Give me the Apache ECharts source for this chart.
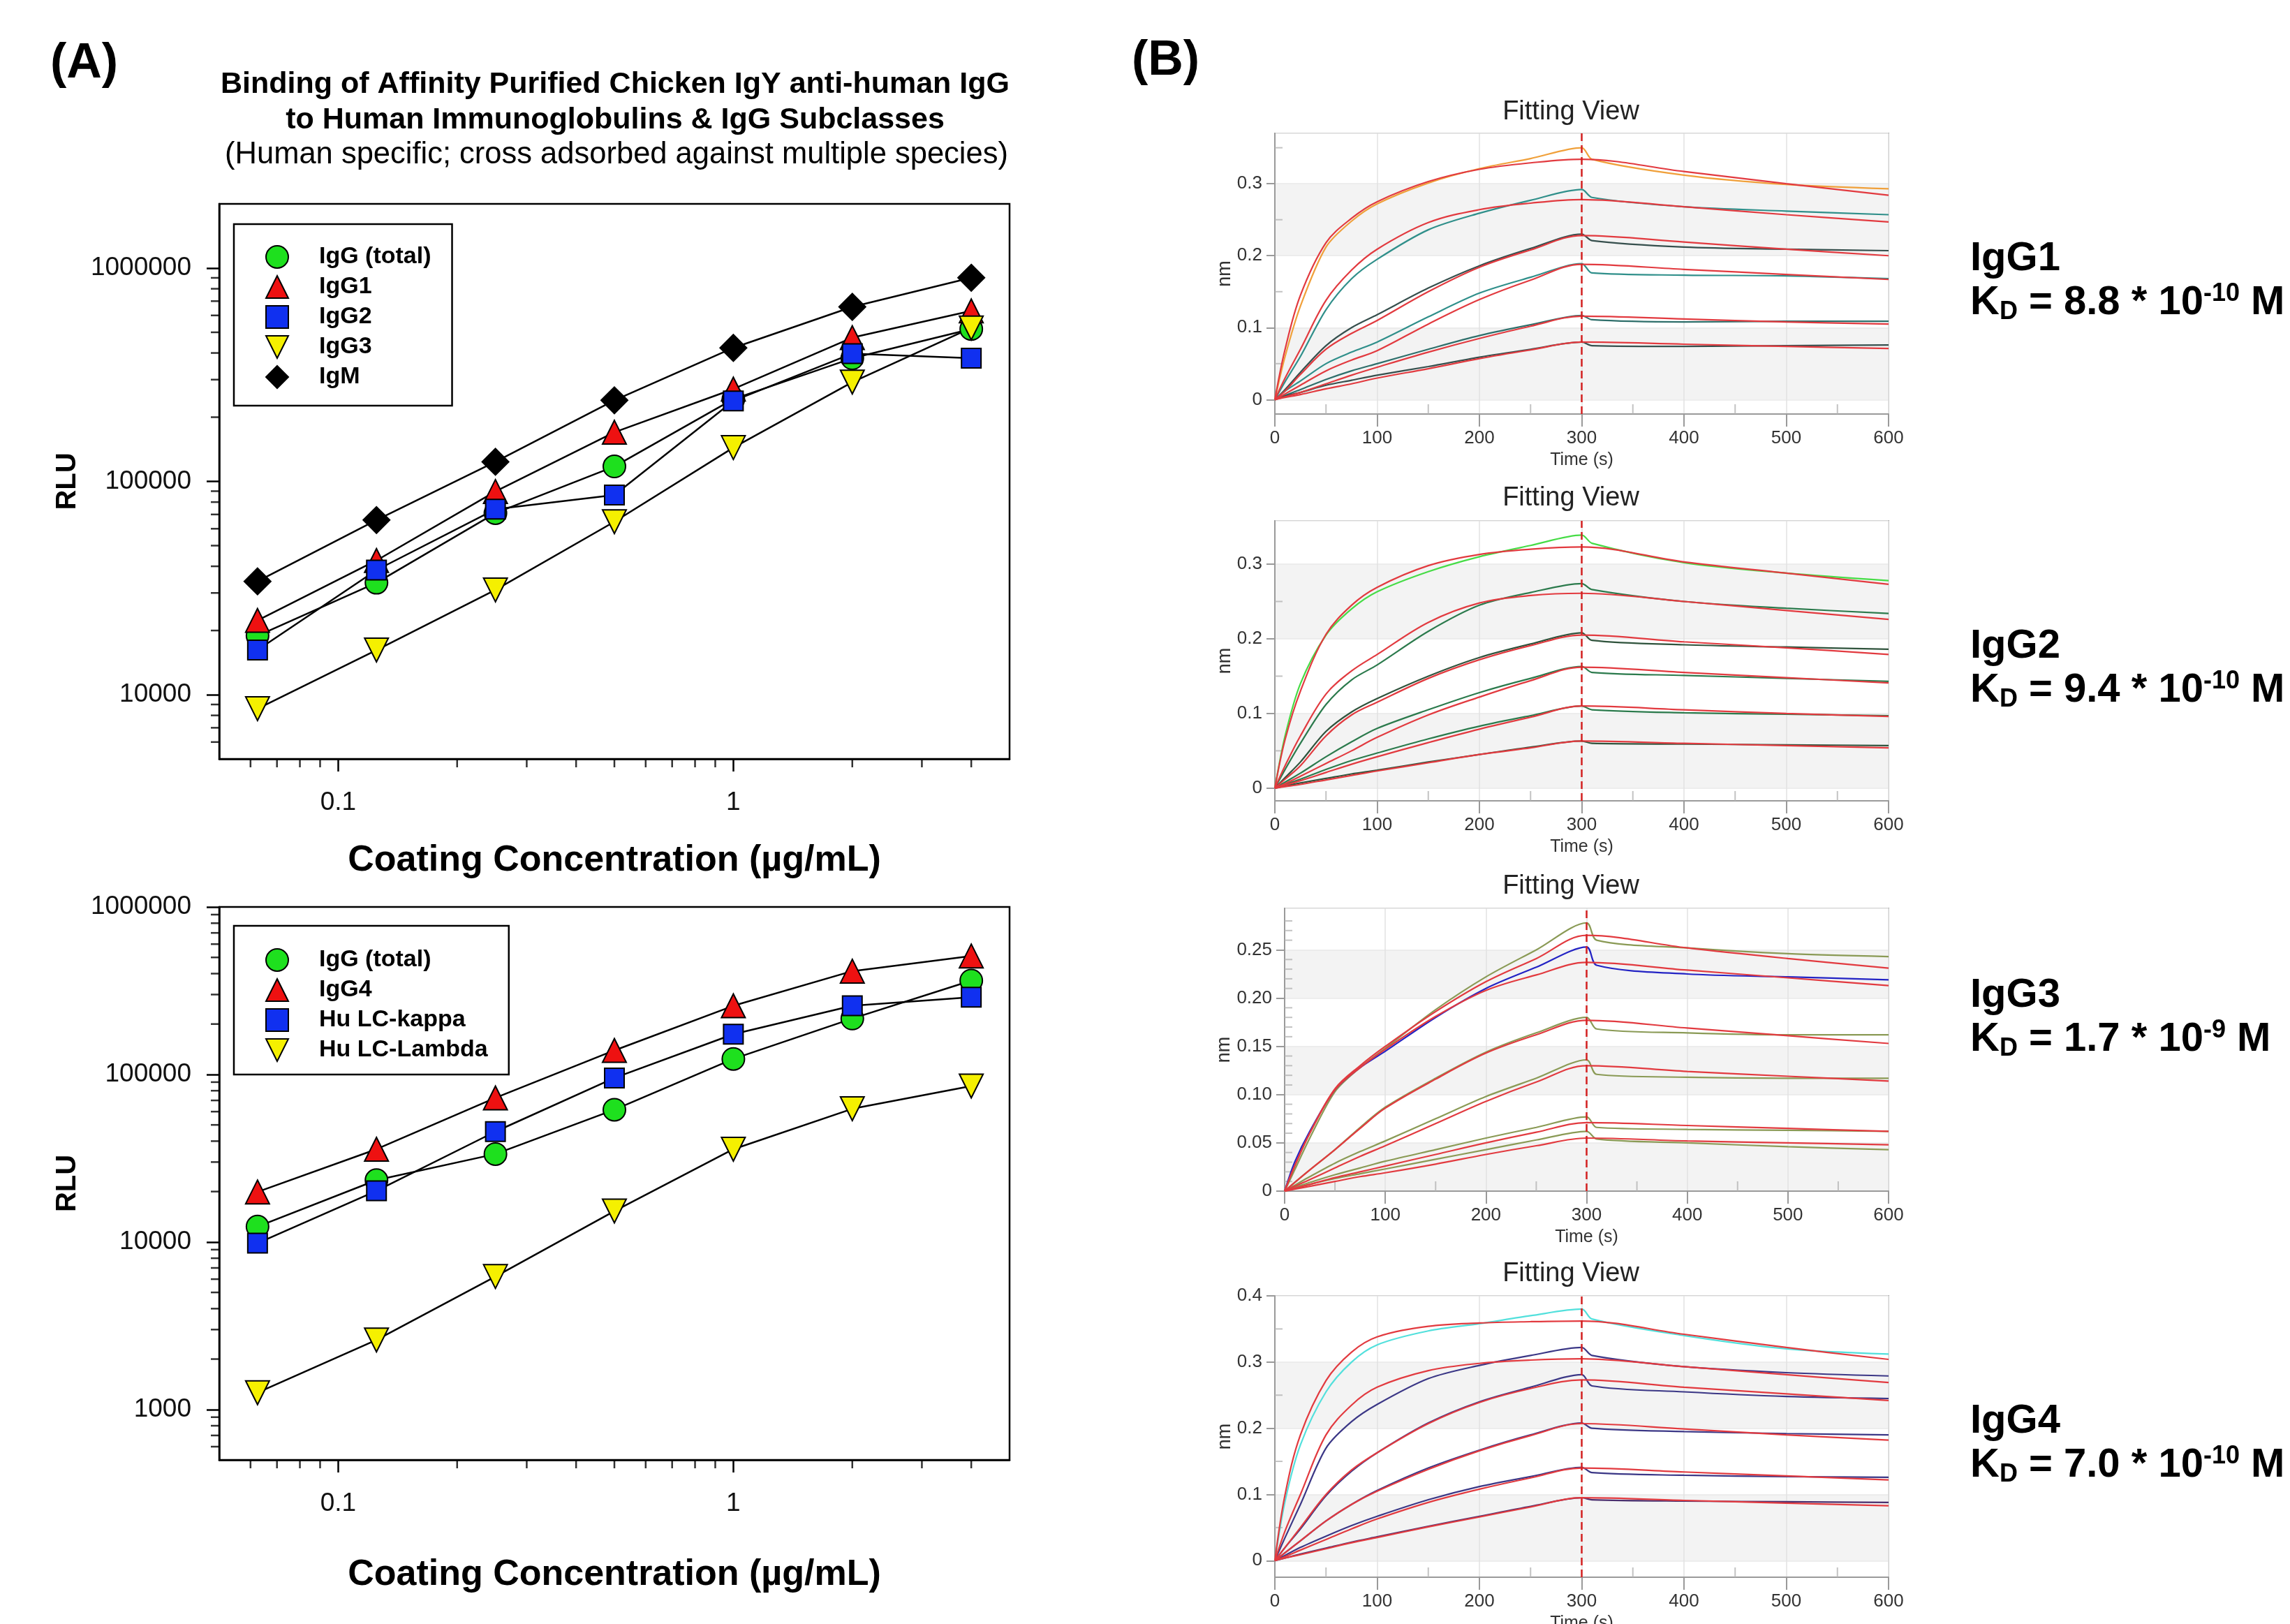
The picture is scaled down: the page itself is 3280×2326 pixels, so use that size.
<!DOCTYPE html>
<html>
<head>
<meta charset="utf-8">
<script src="https://cdn.jsdelivr.net/npm/echarts@6/dist/echarts.min.js"></script>
<style>
  html, body { margin: 0; padding: 0; background: #fff; }
  #chart { width: 3280px; height: 2326px; }
</style>
</head>
<body>
<div id="chart"></div>
<script>
var FONT = '"Liberation Sans", Arial, sans-serif';

// ---- panel A : ELISA binding, coating concentration (ug/mL) vs RLU ----
var conc = [0.0625, 0.125, 0.25, 0.5, 1, 2, 4];

var topIgGTotal = [18900, 33500, 71000, 117500, 243000, 378000, 518000];
var topIgG1 = [22300, 42600, 89700, 170000, 271000, 472000, 630000];
var topIgG2 = [16200, 38400, 74100, 86400, 238500, 397500, 378000];
var topIgG3 = [8600, 16200, 31000, 64700, 144000, 292000, 524000];
var topIgM = [34000, 65900, 123600, 240000, 422700, 658000, 901000];

var botIgGTotal = [12350, 23400, 33500, 61600, 123800, 215700, 363500];
var botIgG4 = [19900, 35800, 72500, 139200, 257000, 414000, 510000];
var botKappa = [9840, 20200, 45600, 95300, 174000, 257000, 289000];
var botLambda = [1260, 2600, 6220, 15300, 35800, 62400, 85300];

// minor tick values of the log axes
var minorConc = [0.06, 0.07, 0.08, 0.09, 0.2, 0.3, 0.4, 0.5, 0.6, 0.7, 0.8, 0.9, 2, 3, 4];
var minorRluTop = [6000, 7000, 8000, 9000, 20000, 30000, 40000, 50000, 60000, 70000, 80000, 90000,
  200000, 300000, 400000, 500000, 600000, 700000, 800000, 900000];
var minorRluBot = [600, 700, 800, 900, 2000, 3000, 4000, 5000, 6000, 7000, 8000, 9000,
  20000, 30000, 40000, 50000, 60000, 70000, 80000, 90000,
  200000, 300000, 400000, 500000, 600000, 700000, 800000, 900000];

// ---- panel B : sensorgrams (nm vs time, s) ----
var tFit = [0, 10, 25, 50, 75, 100, 150, 200, 250, 300, 400, 500, 600];
var tRaw = [0, 10, 25, 50, 75, 100, 150, 200, 250, 300, 310, 400, 500, 600];

var igg1Fit = [
  [0, 0.07, 0.145, 0.218, 0.252, 0.275, 0.303, 0.32, 0.329, 0.334, 0.317, 0.300, 0.284],
  [0, 0.03, 0.07, 0.138, 0.18, 0.209, 0.246, 0.264, 0.273, 0.278, 0.268, 0.257, 0.247],
  [0, 0.012, 0.035, 0.07, 0.092, 0.11, 0.15, 0.184, 0.208, 0.228, 0.219, 0.209, 0.200],
  [0, 0.008, 0.02, 0.04, 0.055, 0.068, 0.105, 0.139, 0.166, 0.188, 0.181, 0.174, 0.167],
  [0, 0.004, 0.01, 0.022, 0.034, 0.045, 0.066, 0.085, 0.102, 0.116, 0.112, 0.108, 0.105],
  [0, 0.003, 0.007, 0.015, 0.022, 0.03, 0.043, 0.057, 0.069, 0.08, 0.077, 0.074, 0.071]
];
var igg1Raw = [
  [0, 0.06, 0.13, 0.212, 0.248, 0.272, 0.301, 0.321, 0.335, 0.35, 0.334, 0.312, 0.299, 0.293],
  [0, 0.025, 0.06, 0.125, 0.168, 0.195, 0.236, 0.259, 0.277, 0.292, 0.281, 0.268, 0.262, 0.257],
  [0, 0.014, 0.038, 0.075, 0.1, 0.118, 0.155, 0.186, 0.21, 0.23, 0.221, 0.212, 0.209, 0.207],
  [0, 0.012, 0.026, 0.05, 0.066, 0.08, 0.115, 0.148, 0.17, 0.189, 0.176, 0.173, 0.172, 0.168],
  [0, 0.006, 0.014, 0.028, 0.04, 0.05, 0.07, 0.089, 0.104, 0.117, 0.111, 0.108, 0.109, 0.109],
  [0, 0.005, 0.01, 0.02, 0.027, 0.034, 0.046, 0.059, 0.07, 0.08, 0.075, 0.074, 0.075, 0.076]
];

var igg2Fit = [
  [0, 0.065, 0.13, 0.206, 0.245, 0.269, 0.298, 0.313, 0.32, 0.323, 0.303, 0.288, 0.273],
  [0, 0.03, 0.07, 0.126, 0.157, 0.179, 0.222, 0.248, 0.258, 0.261, 0.25, 0.238, 0.226],
  [0, 0.012, 0.03, 0.07, 0.098, 0.115, 0.147, 0.172, 0.191, 0.205, 0.196, 0.188, 0.179],
  [0, 0.006, 0.016, 0.033, 0.05, 0.068, 0.098, 0.122, 0.144, 0.162, 0.155, 0.148, 0.141],
  [0, 0.004, 0.01, 0.021, 0.032, 0.042, 0.061, 0.079, 0.095, 0.11, 0.105, 0.1, 0.096],
  [0, 0.002, 0.005, 0.011, 0.017, 0.023, 0.034, 0.045, 0.054, 0.063, 0.06, 0.057, 0.054]
];
var igg2Raw = [
  [0, 0.07, 0.14, 0.205, 0.24, 0.263, 0.29, 0.31, 0.325, 0.339, 0.328, 0.302, 0.288, 0.278],
  [0, 0.025, 0.06, 0.112, 0.145, 0.165, 0.21, 0.245, 0.262, 0.274, 0.266, 0.25, 0.241, 0.234],
  [0, 0.014, 0.035, 0.076, 0.102, 0.12, 0.15, 0.175, 0.193, 0.208, 0.198, 0.192, 0.189, 0.186],
  [0, 0.008, 0.02, 0.042, 0.062, 0.08, 0.105, 0.128, 0.147, 0.163, 0.155, 0.151, 0.147, 0.143],
  [0, 0.005, 0.012, 0.025, 0.037, 0.047, 0.066, 0.083, 0.097, 0.11, 0.105, 0.101, 0.099, 0.097],
  [0, 0.003, 0.007, 0.013, 0.019, 0.024, 0.035, 0.045, 0.055, 0.063, 0.06, 0.059, 0.058, 0.057]
];

var igg3Fit = [
  [0, 0.026, 0.06, 0.106, 0.13, 0.15, 0.186, 0.217, 0.241, 0.265, 0.252, 0.241, 0.231],
  [0, 0.026, 0.06, 0.105, 0.128, 0.147, 0.181, 0.208, 0.224, 0.237, 0.229, 0.221, 0.213],
  [0, 0.009, 0.022, 0.043, 0.065, 0.086, 0.116, 0.143, 0.162, 0.177, 0.169, 0.161, 0.153],
  [0, 0.005, 0.012, 0.024, 0.036, 0.047, 0.07, 0.093, 0.113, 0.13, 0.124, 0.119, 0.114],
  [0, 0.003, 0.007, 0.014, 0.02, 0.026, 0.038, 0.05, 0.061, 0.071, 0.068, 0.065, 0.062],
  [0, 0.002, 0.005, 0.01, 0.015, 0.019, 0.028, 0.038, 0.047, 0.055, 0.052, 0.05, 0.048]
];
var igg3Raw = [
  [0, 0.022, 0.055, 0.103, 0.128, 0.148, 0.188, 0.222, 0.25, 0.278, 0.26, 0.252, 0.246, 0.243],
  [0, 0.03, 0.062, 0.105, 0.128, 0.145, 0.18, 0.21, 0.232, 0.253, 0.234, 0.225, 0.222, 0.219],
  [0, 0.009, 0.022, 0.043, 0.066, 0.087, 0.117, 0.144, 0.164, 0.18, 0.168, 0.164, 0.162, 0.162],
  [0, 0.006, 0.015, 0.029, 0.041, 0.052, 0.075, 0.098, 0.117, 0.136, 0.121, 0.118, 0.117, 0.117],
  [0, 0.004, 0.009, 0.017, 0.024, 0.031, 0.043, 0.055, 0.066, 0.077, 0.066, 0.064, 0.063, 0.062],
  [0, 0.003, 0.007, 0.013, 0.018, 0.023, 0.033, 0.043, 0.053, 0.062, 0.054, 0.05, 0.046, 0.043]
];

var igg4Fit = [
  [0, 0.1, 0.19, 0.272, 0.315, 0.338, 0.354, 0.359, 0.361, 0.362, 0.342, 0.322, 0.304],
  [0, 0.045, 0.1, 0.19, 0.235, 0.262, 0.287, 0.298, 0.303, 0.305, 0.293, 0.281, 0.269],
  [0, 0.02, 0.05, 0.1, 0.137, 0.163, 0.207, 0.239, 0.26, 0.273, 0.262, 0.252, 0.242],
  [0, 0.012, 0.03, 0.06, 0.085, 0.105, 0.138, 0.166, 0.189, 0.207, 0.199, 0.19, 0.182],
  [0, 0.006, 0.016, 0.032, 0.048, 0.063, 0.088, 0.108, 0.125, 0.14, 0.134, 0.128, 0.122],
  [0, 0.004, 0.009, 0.018, 0.027, 0.035, 0.051, 0.066, 0.081, 0.095, 0.091, 0.087, 0.083]
];
var igg4Raw = [
  [0, 0.09, 0.175, 0.255, 0.3, 0.326, 0.347, 0.358, 0.37, 0.38, 0.365, 0.34, 0.32, 0.312],
  [0, 0.035, 0.085, 0.17, 0.21, 0.236, 0.275, 0.295, 0.31, 0.322, 0.31, 0.293, 0.284, 0.279],
  [0, 0.02, 0.048, 0.098, 0.135, 0.163, 0.208, 0.24, 0.262, 0.281, 0.264, 0.255, 0.248, 0.245],
  [0, 0.012, 0.03, 0.06, 0.085, 0.106, 0.14, 0.167, 0.19, 0.208, 0.2, 0.195, 0.192, 0.19],
  [0, 0.008, 0.02, 0.037, 0.053, 0.067, 0.092, 0.112, 0.127, 0.141, 0.133, 0.129, 0.127, 0.126],
  [0, 0.004, 0.01, 0.019, 0.028, 0.036, 0.052, 0.067, 0.082, 0.095, 0.092, 0.09, 0.089, 0.088]
];

var minorTime = [50, 150, 250, 350, 450, 550];
var minorNm = [0.05, 0.15, 0.25, 0.35];
var minorNm3 = [0.01, 0.02, 0.03, 0.04, 0.06, 0.07, 0.08, 0.09, 0.11, 0.12, 0.13, 0.14,
  0.16, 0.17, 0.18, 0.19, 0.21, 0.22, 0.23, 0.24, 0.26, 0.27, 0.28];

var kdNames = ['IgG1', 'IgG2', 'IgG3', 'IgG4'];
var kdMantissa = ['8.8', '9.4', '1.7', '7.0'];
var kdExp = ['-10', '-10', '-9', '-10'];

// layout of the four sensorgram boxes
var kin = [
  { fit: igg1Fit, raw: igg1Raw, left: 1826, top: 191, width: 879, height: 402, ymin: -0.02, ymax: 0.37, split: 4,
    minor: minorNm, bands: ['#ffffff', '#f3f3f3'], titleY: 161, labY: 371, nmGap: 56,
    colors: ['#f0a03a', '#2f8f8a', '#364f4d', '#2f8f8a', '#2f6f6b', '#364f4d'] },
  { fit: igg2Fit, raw: igg2Raw, left: 1826, top: 746, width: 879, height: 401, ymin: -0.017, ymax: 0.358, split: 4,
    minor: [0.05, 0.15, 0.25], bands: ['#ffffff', '#f3f3f3'], titleY: 714, labY: 926, nmGap: 56,
    colors: ['#46dc46', '#2b7a4c', '#2f533c', '#2b7a4c', '#2b7a4c', '#2f533c'] },
  { fit: igg3Fit, raw: igg3Raw, left: 1840, top: 1301, width: 865, height: 405, ymin: 0, ymax: 0.293, split: 6,
    minor: minorNm3, bands: ['#f3f3f3', '#ffffff'], titleY: 1270, labY: 1426, nmGap: 70,
    colors: ['#8a9a55', '#2323c4', '#8a9a55', '#8a9a55', '#8a9a55', '#8a9a55'] },
  { fit: igg4Fit, raw: igg4Raw, left: 1826, top: 1856, width: 879, height: 403, ymin: -0.025, ymax: 0.4, split: 4,
    minor: minorNm, bands: ['#ffffff', '#f3f3f3'], titleY: 1825, labY: 2036, nmGap: 56,
    colors: ['#52e0dc', '#3b3786', '#3b3786', '#3b3786', '#3b3786', '#4a2f6e'] }
];

function fmtLog(v) {
  if (v >= 1) return String(Math.round(v));
  return String(Number(v.toPrecision(2)));
}

function zip(xs, ys) {
  return xs.map(function (x, i) { return [x, ys[i]]; });
}

var chart = echarts.init(document.getElementById('chart'), null, { renderer: 'canvas' });

var grids = [
  { left: 314, top: 292, width: 1132, height: 795 },
  { left: 314, top: 1299, width: 1132, height: 792 }
];
grids.forEach(function (g) {
  g.show = true; g.borderColor = '#000'; g.borderWidth = 2.5; g.containLabel = false; g.outerBoundsMode = 'none';
});
kin.forEach(function (k) {
  grids.push({ left: k.left, top: k.top, width: k.width, height: k.height, show: true,
    borderColor: '#9a9a9a', borderWidth: 2, containLabel: false, outerBoundsMode: 'none' });
});

var xAxes = [], yAxes = [];

function logX(gi, gap) {
  return {
    gridIndex: gi, type: 'log', logBase: 10, min: 0.05, max: 5,
    name: 'Coating Concentration (\u00b5g/mL)', nameLocation: 'middle', nameGap: gap,
    nameTextStyle: { fontSize: 52, fontWeight: 'bold', color: '#000', fontFamily: FONT },
    axisLine: { show: true, onZero: false, lineStyle: { color: '#000', width: 2.5 } },
    axisTick: { show: true, length: 18, lineStyle: { color: '#000', width: 2.5 } },
    axisLabel: { fontSize: 37, color: '#111', margin: 44, fontFamily: FONT,
      showMinLabel: false, showMaxLabel: false, formatter: fmtLog },
    splitLine: { show: false }
  };
}
function logY(gi, min, max, showMax) {
  return {
    gridIndex: gi, type: 'log', logBase: 10, min: min, max: max,
    name: 'RLU', nameLocation: 'middle', nameGap: 197,
    nameTextStyle: { fontSize: 40, fontWeight: 'bold', color: '#000', fontFamily: FONT },
    axisLine: { show: true, onZero: false, lineStyle: { color: '#000', width: 2.5 } },
    axisTick: { show: true, length: 18, lineStyle: { color: '#000', width: 2.5 } },
    axisLabel: { fontSize: 37, color: '#111', margin: 40, fontFamily: FONT,
      showMinLabel: false, showMaxLabel: showMax, formatter: fmtLog },
    splitLine: { show: false }
  };
}
xAxes.push(logX(0, 120), logX(1, 139));
yAxes.push(logY(0, 5000, 2000000, false), logY(1, 500, 1000000, true));

kin.forEach(function (k, i) {
  var gi = i + 2;
  xAxes.push({
    gridIndex: gi, type: 'value', min: 0, max: 600, interval: 100,
    name: 'Time (s)', nameLocation: 'middle', nameGap: 54,
    nameTextStyle: { fontSize: 25, color: '#333', fontFamily: FONT },
    axisLine: { show: true, onZero: false, lineStyle: { color: '#9a9a9a', width: 2 } },
    axisTick: { show: true, length: 18, lineStyle: { color: '#9a9a9a', width: 2 } },
    axisLabel: { fontSize: 26, color: '#333', margin: 22, fontFamily: FONT },
    splitLine: { show: true, lineStyle: { color: '#e2e2e2', width: 1.5 } }
  });
  yAxes.push({
    gridIndex: gi, type: 'value', min: k.ymin, max: k.ymax, splitNumber: k.split,
    name: 'nm', nameLocation: 'middle', nameGap: k.nmGap,
    nameTextStyle: { fontSize: 27, color: '#333', fontFamily: FONT },
    axisLine: { show: true, onZero: false, lineStyle: { color: '#9a9a9a', width: 2 } },
    axisTick: { show: true, length: 12, lineStyle: { color: '#9a9a9a', width: 2 } },
    axisLabel: { fontSize: 26, color: '#333', margin: 18, fontFamily: FONT,
      showMinLabel: k.ymin === 0, showMaxLabel: k.ymax === 0.4,
      formatter: function (v) {
        if (Math.abs(v) < 1e-9) return '0';
        return k.split === 6 ? v.toFixed(2) : String(Number(v.toFixed(2)));
      } },
    splitLine: { show: true, lineStyle: { color: '#e8e8e8', width: 1.5 } },
    splitArea: { show: true, areaStyle: { color: k.bands } }
  });
});

var series = [];

function dots(name, gi, vals, symbol, size, color, rotate) {
  return {
    name: name, type: 'line', xAxisIndex: gi, yAxisIndex: gi, data: zip(conc, vals),
    symbol: symbol, symbolSize: size, symbolRotate: rotate || 0, showSymbol: true,
    lineStyle: { color: '#000', width: 2.5 },
    itemStyle: { color: color, borderColor: '#000', borderWidth: 2 },
    z: 3, silent: true
  };
}
function tickMarks(gi, pts, size, offset, color) {
  return {
    type: 'scatter', xAxisIndex: gi, yAxisIndex: gi, data: pts, symbol: 'rect',
    symbolSize: size, symbolOffset: offset, itemStyle: { color: color },
    clip: false, silent: true, z: 1
  };
}

series.push(
  dots('IgG (total)', 0, topIgGTotal, 'circle', 32, '#1ee01e'),
  dots('IgG1', 0, topIgG1, 'triangle', 34, '#ee1111'),
  dots('IgG2', 0, topIgG2, 'rect', 28, '#1030f0'),
  dots('IgG3', 0, topIgG3, 'triangle', 34, '#f5f000', 180),
  dots('IgM', 0, topIgM, 'diamond', 38, '#000000'),
  dots('IgG (total)', 1, botIgGTotal, 'circle', 32, '#1ee01e'),
  dots('IgG4', 1, botIgG4, 'triangle', 34, '#ee1111'),
  dots('Hu LC-kappa', 1, botKappa, 'rect', 28, '#1030f0'),
  dots('Hu LC-Lambda', 1, botLambda, 'triangle', 34, '#f5f000', 180),
  tickMarks(0, minorConc.map(function (c) { return [c, 5000]; }), [2.5, 12], [0, 6], '#000'),
  tickMarks(1, minorConc.map(function (c) { return [c, 500]; }), [2.5, 12], [0, 6], '#000'),
  tickMarks(0, minorRluTop.map(function (v) { return [0.05, v]; }), [12, 2.5], [-6, 0], '#000'),
  tickMarks(1, minorRluBot.map(function (v) { return [0.05, v]; }), [12, 2.5], [-6, 0], '#000')
);

kin.forEach(function (k, i) {
  var gi = i + 2;
  k.raw.forEach(function (vals, j) {
    series.push({
      type: 'line', xAxisIndex: gi, yAxisIndex: gi, data: zip(tRaw, vals),
      symbol: 'none', smooth: 0.3, lineStyle: { color: k.colors[j], width: 2.2 }, z: 3, silent: true
    });
  });
  k.fit.forEach(function (vals, j) {
    var s = {
      type: 'line', xAxisIndex: gi, yAxisIndex: gi, data: zip(tFit, vals),
      symbol: 'none', smooth: 0.35, lineStyle: { color: '#e23a3f', width: 2.2 }, z: 4, silent: true
    };
    if (j === 0) {
      s.markLine = {
        silent: true, symbol: 'none', label: { show: false },
        lineStyle: { type: [11, 6], color: '#d42020', width: 2.5 },
        data: [{ xAxis: 300 }]
      };
    }
    series.push(s);
  });
  series.push(
    tickMarks(gi, minorTime.map(function (t) { return [t, k.ymin]; }), [2, 14], [0, -7], '#b4b4b4'),
    tickMarks(gi, k.minor.map(function (v) { return [0, v]; }), [11, 2], [5.5, 0], '#b4b4b4')
  );
});

function txt(x, y, text, font, align, fill) {
  return { type: 'text', x: x, y: y, silent: true,
    style: { text: text, font: font, fill: fill || '#000', textAlign: align || 'left', textVerticalAlign: 'middle' } };
}

var graphics = [
  txt(72, 92, '(A)', 'bold 70px ' + FONT),
  txt(1621, 88, '(B)', 'bold 70px ' + FONT),
  txt(881, 121, 'Binding of Affinity Purified Chicken IgY anti-human IgG', 'bold 43px ' + FONT, 'center'),
  txt(881, 172, 'to Human Immunoglobulins & IgG Subclasses', 'bold 43px ' + FONT, 'center'),
  txt(883, 222, '(Human specific; cross adsorbed against multiple species)', '43.5px ' + FONT, 'center')
];
kin.forEach(function (k, i) {
  graphics.push(txt(2250, k.titleY, 'Fitting View', '38px ' + FONT, 'center', '#222'));
  graphics.push(txt(2822, k.labY, kdNames[i], 'bold 58px ' + FONT));
  graphics.push({
    type: 'text', x: 2822, y: k.labY + 63, silent: true,
    style: {
      text: '{a|K}{s|D}{a| = ' + kdMantissa[i] + ' * 10}{p|' + kdExp[i] + '}{a| M}',
      textVerticalAlign: 'middle', fill: '#000',
      rich: {
        a: { fontSize: 58, fontWeight: 'bold', fontFamily: FONT, lineHeight: 62, fill: '#000' },
        s: { fontSize: 36, fontWeight: 'bold', fontFamily: FONT, lineHeight: 36, verticalAlign: 'bottom', fill: '#000' },
        p: { fontSize: 36, fontWeight: 'bold', fontFamily: FONT, lineHeight: 36, verticalAlign: 'top', fill: '#000' }
      }
    }
  });
});

var legendBase = {
  orient: 'vertical', left: 335, selectedMode: false,
  itemWidth: 110, itemHeight: 40, itemGap: 9,
  borderColor: '#000', borderWidth: 2.5, backgroundColor: '#fff',
  textStyle: { fontSize: 34, fontWeight: 'bold', color: '#000', fontFamily: FONT },
  lineStyle: { width: 0, opacity: 0 }
};

var option = {
  animation: false,
  backgroundColor: '#ffffff',
  grid: grids,
  xAxis: xAxes,
  yAxis: yAxes,
  legend: [
    Object.assign({}, legendBase, { top: 321, padding: [30, 30, 24, 7],
      data: ['IgG (total)', 'IgG1', 'IgG2', 'IgG3', 'IgM'] }),
    Object.assign({}, legendBase, { top: 1326, padding: [32, 30, 18, 7],
      data: ['IgG (total)', 'IgG4', 'Hu LC-kappa', 'Hu LC-Lambda'] })
  ],
  graphic: graphics,
  series: series
};

chart.setOption(option);
</script>
</body>
</html>
